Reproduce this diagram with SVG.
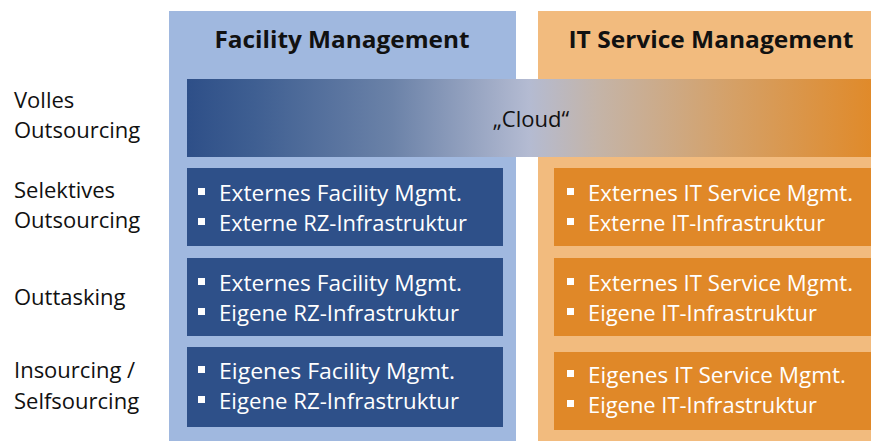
<svg xmlns="http://www.w3.org/2000/svg" width="871" height="443" viewBox="0 0 871 443">
<defs>
<linearGradient id="cloudGrad" x1="0" y1="0" x2="1" y2="0">
<stop offset="0" stop-color="#2e4f88"/>
<stop offset="0.1" stop-color="#3f5f92"/>
<stop offset="0.3" stop-color="#6b82a8"/>
<stop offset="0.5" stop-color="#b4bbd2"/>
<stop offset="0.6" stop-color="#c4b4a8"/>
<stop offset="0.8" stop-color="#d5a066"/>
<stop offset="1" stop-color="#e08a2a"/>
</linearGradient>
<rect id="bullet" width="7" height="7" fill="#ffffff"/>
</defs>
<style>
.hdr{font-family:"Open Sans","Noto Sans",sans-serif;font-weight:bold;font-size:24px;fill:#111111}
.lbl{font-family:"Open Sans","Noto Sans",sans-serif;font-size:22px;fill:#111111}
.box{font-family:"Open Sans","Noto Sans",sans-serif;font-size:21px;fill:#ffffff}
.cloud{font-family:"Open Sans","Noto Sans",sans-serif;font-size:22px;fill:#111111}
.blue{fill:#2e5089}
.orange{fill:#e08828}
</style>
<rect width="871" height="443" fill="#ffffff"/>
<g id="col-fm">
<rect x="169" y="11" width="347" height="430" fill="#a0b8df"/>
<text class="hdr" x="342" y="48" text-anchor="middle" textLength="255" lengthAdjust="spacingAndGlyphs">Facility Management</text>
</g>
<g id="col-itsm">
<rect x="538" y="11" width="333" height="430" fill="#f2bb7e"/>
<text class="hdr" x="711" y="48" text-anchor="middle" textLength="285" lengthAdjust="spacingAndGlyphs">IT Service Management</text>
</g>
<g id="cloud">
<rect x="187" y="79" width="684" height="78" fill="url(#cloudGrad)"/>
<text class="cloud" x="531" y="127" text-anchor="middle">„Cloud“</text>
</g>
<g id="labels">
<text class="lbl" x="14" y="108">Volles</text>
<text class="lbl" x="14" y="138">Outsourcing</text>
<text class="lbl" x="14" y="198">Selektives</text>
<text class="lbl" x="14" y="228">Outsourcing</text>
<text class="lbl" x="14" y="305">Outtasking</text>
<text class="lbl" x="14" y="378">Insourcing /</text>
<text class="lbl" x="14" y="409">Selfsourcing</text>
</g>
<g id="fm-selektiv">
<rect class="blue" x="187" y="168" width="316" height="78"/>
<use href="#bullet" x="198" y="188"/>
<use href="#bullet" x="198" y="218"/>
<text class="box" x="219" y="201" textLength="243" lengthAdjust="spacingAndGlyphs">Externes Facility Mgmt.</text>
<text class="box" x="219" y="231" textLength="248" lengthAdjust="spacingAndGlyphs">Externe RZ-Infrastruktur</text>
</g>
<g id="fm-outtasking">
<rect class="blue" x="187" y="258" width="316" height="78"/>
<use href="#bullet" x="198" y="278"/>
<use href="#bullet" x="198" y="308"/>
<text class="box" x="219" y="291" textLength="243" lengthAdjust="spacingAndGlyphs">Externes Facility Mgmt.</text>
<text class="box" x="219" y="321" textLength="240" lengthAdjust="spacingAndGlyphs">Eigene RZ-Infrastruktur</text>
</g>
<g id="fm-insourcing">
<rect class="blue" x="187" y="347" width="316" height="80"/>
<use href="#bullet" x="198" y="366"/>
<use href="#bullet" x="198" y="396"/>
<text class="box" x="219" y="379" textLength="236" lengthAdjust="spacingAndGlyphs">Eigenes Facility Mgmt.</text>
<text class="box" x="219" y="409" textLength="240" lengthAdjust="spacingAndGlyphs">Eigene RZ-Infrastruktur</text>
</g>
<g id="itsm-selektiv">
<rect class="orange" x="554" y="168" width="317" height="78"/>
<use href="#bullet" x="567" y="188"/>
<use href="#bullet" x="567" y="218"/>
<text class="box" x="588" y="201" textLength="265" lengthAdjust="spacingAndGlyphs">Externes IT Service Mgmt.</text>
<text class="box" x="588" y="231" textLength="237" lengthAdjust="spacingAndGlyphs">Externe IT-Infrastruktur</text>
</g>
<g id="itsm-outtasking">
<rect class="orange" x="554" y="258" width="317" height="78"/>
<use href="#bullet" x="567" y="278"/>
<use href="#bullet" x="567" y="308"/>
<text class="box" x="588" y="291" textLength="265" lengthAdjust="spacingAndGlyphs">Externes IT Service Mgmt.</text>
<text class="box" x="588" y="321" textLength="229" lengthAdjust="spacingAndGlyphs">Eigene IT-Infrastruktur</text>
</g>
<g id="itsm-insourcing">
<rect class="orange" x="554" y="352" width="317" height="78"/>
<use href="#bullet" x="567" y="370"/>
<use href="#bullet" x="567" y="400"/>
<text class="box" x="588" y="383" textLength="258" lengthAdjust="spacingAndGlyphs">Eigenes IT Service Mgmt.</text>
<text class="box" x="588" y="413" textLength="229" lengthAdjust="spacingAndGlyphs">Eigene IT-Infrastruktur</text>
</g>
</svg>
